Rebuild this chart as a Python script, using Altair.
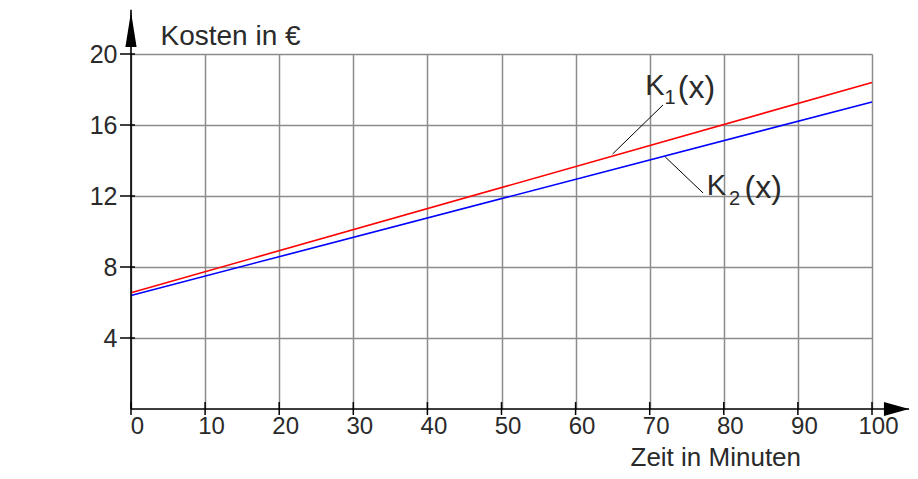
import altair as alt
import pandas as pd

# ---- data ----
minutes = [0, 100]
k1_cost = [6.55, 18.4]
k2_cost = [6.4, 17.3]
x_tick_values = [0, 10, 20, 30, 40, 50, 60, 70, 80, 90, 100]
y_tick_values = [4, 8, 12, 16, 20]

FONT = "Liberation Sans"
TXT = "#2a2a2a"

lines = pd.DataFrame({
    "x": minutes + minutes,
    "y": k1_cost + k2_cost,
    "tarif": ["K1"] * len(minutes) + ["K2"] * len(minutes),
})

xs = alt.Scale(domain=[0, 100], nice=False, zero=False)
ys = alt.Scale(domain=[0, 20], nice=False, zero=False)

x_axis = alt.Axis(
    values=x_tick_values, grid=True, gridColor="#8c8c8c", gridWidth=1.5,
    domain=False, ticks=False, labelFont=FONT, labelFontSize=24, labelColor=TXT,
    labelPadding=5, labelOffset=6, labelFlush=False, labelOverlap=False,
    title="Zeit in Minuten", titleFont=FONT, titleFontSize=26, titleFontWeight="normal",
    titleColor=TXT, titleAngle=0, titleAlign="left", titleBaseline="alphabetic",
    titleX=499, titleY=56,
)
y_axis = alt.Axis(
    values=y_tick_values, grid=True, gridColor="#8c8c8c", gridWidth=1.5,
    domain=False, ticks=False, labelFont=FONT, labelFontSize=25, labelColor=TXT,
    labelPadding=14, labelFlush=False, labelOverlap=False,
    title="Kosten in €", titleFont=FONT, titleFontSize=28, titleFontWeight="normal",
    titleColor=TXT, titleAngle=0, titleAlign="left", titleBaseline="alphabetic",
    titleX=29, titleY=-10,
)

cost_lines = alt.Chart(lines).mark_line(strokeWidth=1.6).encode(
    x=alt.X("x:Q", scale=xs, axis=x_axis),
    y=alt.Y("y:Q", scale=ys, axis=y_axis),
    color=alt.Color("tarif:N", scale=alt.Scale(domain=["K1", "K2"], range=["#ff0000", "#0000ff"]), legend=None),
)

# axis lines extended beyond the plot (like the original arrows)
axes_df = pd.DataFrame({"x": [0, 0], "x2": [0, 105], "y": [0, 0], "y2": [22.5, 0]})
axis_lines = alt.Chart(axes_df).mark_rule(color="black", strokeWidth=1.6).encode(
    x="x:Q", x2="x2:Q", y="y:Q", y2="y2:Q"
)

# ticks crossing the axes
tick_rows = []
for v in y_tick_values:
    tick_rows.append({"x": -1.48, "x2": 0.54, "y": v, "y2": v})
for v in x_tick_values:
    tick_rows.append({"x": v, "x2": v, "y": 0.39, "y2": -0.34})
ticks = alt.Chart(pd.DataFrame(tick_rows)).mark_rule(color="black", strokeWidth=1.5).encode(
    x="x:Q", x2="x2:Q", y="y:Q", y2="y2:Q"
)

# arrow heads
up_arrow = alt.Chart(pd.DataFrame({"x": [0], "y": [21.38]})).mark_point(
    shape="M0,-1L0.32,1L-0.32,1Z", size=1225, filled=True, color="black", opacity=1
).encode(x="x:Q", y="y:Q")
right_arrow = alt.Chart(pd.DataFrame({"x": [103.3], "y": [0]})).mark_point(
    shape="M1,0L-1,0.56L-1,-0.56Z", size=625, filled=True, color="black", opacity=1
).encode(x="x:Q", y="y:Q")

# leader lines for labels
leaders_df = pd.DataFrame({
    "x": [65.0, 72.1], "y": [14.37, 14.2], "x2": [71.8, 77.2], "y2": [17.13, 12.17]
})
leaders = alt.Chart(leaders_df).mark_rule(color="black", strokeWidth=1).encode(
    x="x:Q", x2="x2:Q", y="y:Q", y2="y2:Q"
)

# labels K1(x), K2(x)
k_df = pd.DataFrame({"x": [69.4, 77.7], "y": [17.69, 12.06], "t": ["K", "K"]})
paren_df = pd.DataFrame({"x": [73.8, 82.8], "y": [17.5, 11.9], "t": ["(x)", "(x)"]})
small_df = pd.DataFrame({"x": [72.0, 80.7], "y": [17.2, 11.5], "t": ["1", "2"]})
k_text = alt.Chart(k_df).mark_text(
    font=FONT, fontSize=29, align="left", baseline="alphabetic", color=TXT
).encode(x="x:Q", y="y:Q", text="t:N")
paren_text = alt.Chart(paren_df).mark_text(
    font=FONT, fontSize=32, align="left", baseline="alphabetic", color=TXT
).encode(x="x:Q", y="y:Q", text="t:N")
small_text = alt.Chart(small_df).mark_text(
    font=FONT, fontSize=20, align="left", baseline="alphabetic", color=TXT
).encode(x="x:Q", y="y:Q", text="t:N")

chart = alt.layer(
    cost_lines, axis_lines, ticks, up_arrow, right_arrow, leaders, k_text, paren_text, small_text
).properties(
    width=741, height=355,
    autosize=alt.AutoSizeParams(type="none"),
    padding={"left": 123, "top": 46, "right": 38, "bottom": 62},
).configure_view(stroke=None).configure(background="white")

chart.save("out.html", embed_options={"renderer": "svg", "actions": False})
